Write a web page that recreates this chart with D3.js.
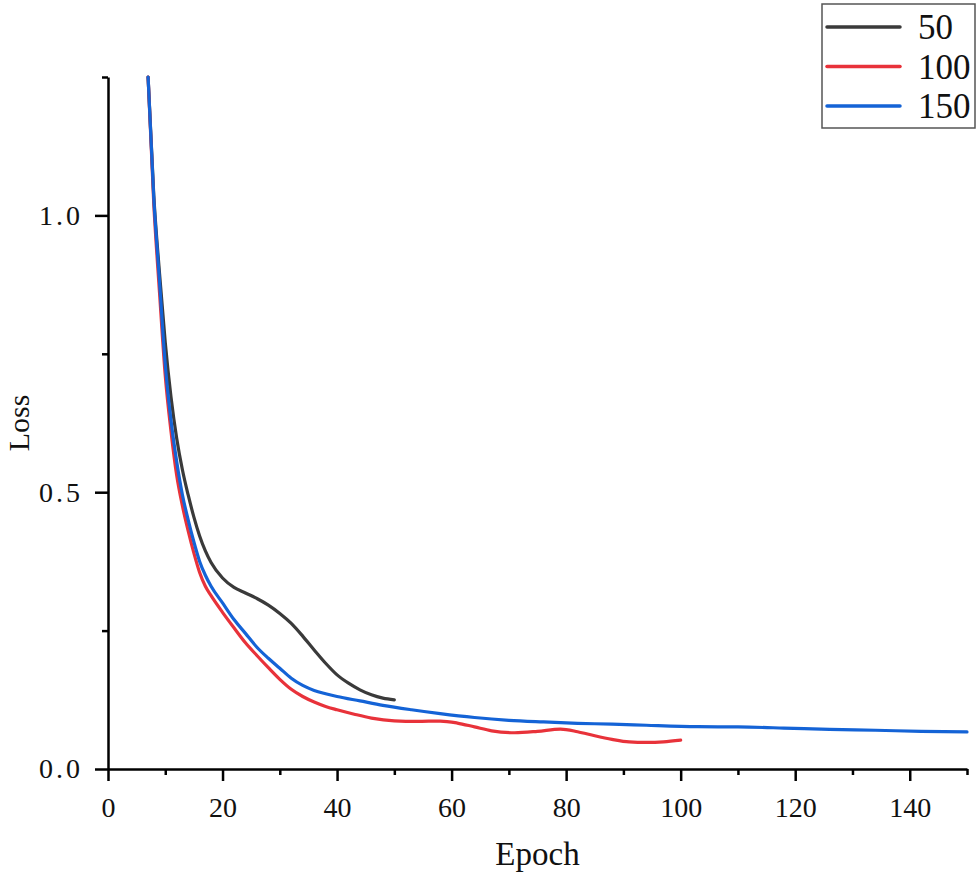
<!DOCTYPE html>
<html>
<head>
<meta charset="utf-8">
<script src="https://cdn.jsdelivr.net/npm/d3@7"></script>
<style>
  body { margin: 0; background: #fff; }
  text { font-family: "Liberation Serif", "DejaVu Serif", serif; fill: #111; }
</style>
</head>
<body>
<div id="chart"></div>
<script>
// Dữ liệu: epoch và loss cho từng cấu hình
const seriesNames = ["50", "100", "150"];
const seriesColors = ["#3a3a3a", "#e8323a", "#1463d6"];

const epochs50 = [7, 8, 9, 10, 11, 12, 13, 14, 15, 16, 17, 18, 20, 22, 24, 26, 28, 30, 32, 34, 36, 38, 40, 42, 44, 46, 48, 50];
const loss50 = [1.25, 1.035, 0.895, 0.77, 0.672, 0.597, 0.54, 0.495, 0.455, 0.421, 0.394, 0.373, 0.345, 0.328, 0.318, 0.308, 0.296, 0.281, 0.263, 0.24, 0.215, 0.191, 0.17, 0.155, 0.143, 0.134, 0.128, 0.125];

const epochs100 = [7, 8, 9, 10, 11, 12, 13, 14, 15, 16, 17, 18, 20, 22, 24, 26, 28, 30, 32, 34, 36, 38, 40, 43, 46, 50, 54, 58, 61, 64, 67, 71, 75, 79, 82, 85, 88, 91, 94, 97, 100];
const loss100 = [1.25, 1.02, 0.86, 0.71, 0.61, 0.53, 0.475, 0.43, 0.39, 0.355, 0.33, 0.313, 0.283, 0.255, 0.228, 0.205, 0.183, 0.162, 0.144, 0.131, 0.121, 0.113, 0.107, 0.099, 0.092, 0.087, 0.086, 0.0866, 0.083, 0.076, 0.069, 0.0655, 0.068, 0.072, 0.0673, 0.06, 0.0536, 0.049, 0.048, 0.049, 0.052];

const epochs150 = [7, 8, 9, 10, 11, 12, 13, 14, 15, 16, 17, 18, 20, 22, 24, 26, 28, 30, 32, 34, 36, 38, 40, 44, 48, 53, 58, 64, 70, 76, 82, 88, 94, 103, 110, 118, 126, 134, 142, 150];
const loss150 = [1.25, 1.03, 0.88, 0.73, 0.63, 0.555, 0.495, 0.45, 0.41, 0.375, 0.35, 0.33, 0.30, 0.27, 0.245, 0.22, 0.2, 0.182, 0.164, 0.151, 0.142, 0.136, 0.131, 0.123, 0.115, 0.107, 0.10, 0.093, 0.088, 0.085, 0.0825, 0.081, 0.079, 0.0765, 0.076, 0.074, 0.0716, 0.070, 0.068, 0.067];

const xMajorTicks = [0, 20, 40, 60, 80, 100, 120, 140];
const xMinorTicks = [10, 30, 50, 70, 90, 110, 130, 150];
const yMajorTicks = [0, 0.5, 1.0];
const yMinorTicks = [0.25, 0.75, 1.25];

const width = 980, height = 874;
const margin = { top: 77, right: 13, bottom: 105, left: 108 };

const svg = d3.select("#chart").append("svg")
    .attr("width", width)
    .attr("height", height);

// Thang đo
const x = d3.scaleLinear().domain([0, 150]).range([margin.left, width - margin.right]);
const y = d3.scaleLinear().domain([0, 1.25]).range([height - margin.bottom, margin.top]);

// Đường dữ liệu
const series = [
    { name: seriesNames[0], color: seriesColors[0], xs: epochs50, ys: loss50 },
    { name: seriesNames[1], color: seriesColors[1], xs: epochs100, ys: loss100 },
    { name: seriesNames[2], color: seriesColors[2], xs: epochs150, ys: loss150 }
];

const line = d3.line()
    .x(d => x(d[0]))
    .y(d => y(d[1]))
    .curve(d3.curveMonotoneX);

svg.append("g").attr("class", "lines")
    .selectAll("path")
    .data(series)
    .enter()
    .append("path")
    .attr("fill", "none")
    .attr("stroke", d => d.color)
    .attr("stroke-width", 3.2)
    .attr("stroke-linecap", "round")
    .attr("d", d => line(d.xs.map((e, i) => [e, d.ys[i]])));

// Trục X
const xAxis = svg.append("g")
    .attr("transform", `translate(0,${y(0)})`)
    .call(d3.axisBottom(x).tickValues(xMajorTicks).tickSize(12).tickPadding(16).tickSizeOuter(0));
svg.append("g")
    .attr("transform", `translate(0,${y(0)})`)
    .call(d3.axisBottom(x).tickValues(xMinorTicks).tickSize(6).tickFormat("").tickSizeOuter(0))
    .select(".domain").remove();

// Trục Y
const yAxis = svg.append("g")
    .attr("transform", `translate(${x(0)},0)`)
    .call(d3.axisLeft(y).tickValues(yMajorTicks).tickSize(13).tickPadding(12).tickSizeOuter(0)
        .tickFormat(d3.format(".1f")));
svg.append("g")
    .attr("transform", `translate(${x(0)},0)`)
    .call(d3.axisLeft(y).tickValues(yMinorTicks).tickSize(6).tickFormat("").tickSizeOuter(0))
    .select(".domain").remove();

svg.selectAll(".domain").attr("stroke", "#000").attr("stroke-width", 2.5);
svg.selectAll(".tick line").attr("stroke", "#000").attr("stroke-width", 2.5);
xAxis.selectAll(".tick text")
    .attr("font-size", "28px")
    .attr("font-family", "Liberation Serif, serif")
    .attr("fill", "#111");
yAxis.selectAll(".tick text")
    .attr("font-size", "28px")
    .attr("font-family", "Liberation Serif, serif")
    .attr("letter-spacing", "3px")
    .attr("fill", "#111");

// Tiêu đề trục
svg.append("text")
    .attr("x", (x(0) + x(150)) / 2)
    .attr("y", 865)
    .attr("text-anchor", "middle")
    .attr("font-size", "33px")
    .text("Epoch");

svg.append("text")
    .attr("transform", `translate(29,${(y(0) + y(1.25)) / 2}) rotate(-90)`)
    .attr("text-anchor", "middle")
    .attr("font-size", "30px")
    .text("Loss");

// Chú giải
const legend = svg.append("g").attr("class", "legend");
legend.append("rect")
    .attr("x", 822)
    .attr("y", 4)
    .attr("width", 153)
    .attr("height", 124)
    .attr("fill", "#fff")
    .attr("stroke", "#555")
    .attr("stroke-width", 1.5);

const legendItems = legend.selectAll(".item")
    .data(series)
    .enter()
    .append("g")
    .attr("class", "item")
    .attr("transform", (d, i) => `translate(0,${27 + i * 39.5})`);
legendItems.append("line")
    .attr("x1", 827).attr("x2", 900)
    .attr("y1", 0).attr("y2", 0)
    .attr("stroke", d => d.color)
    .attr("stroke-width", 3.5)
    .attr("stroke-linecap", "round");
legendItems.append("text")
    .attr("x", 918)
    .attr("y", 12)
    .attr("font-size", "35px")
    .text(d => d.name);
</script>
</body>
</html>
